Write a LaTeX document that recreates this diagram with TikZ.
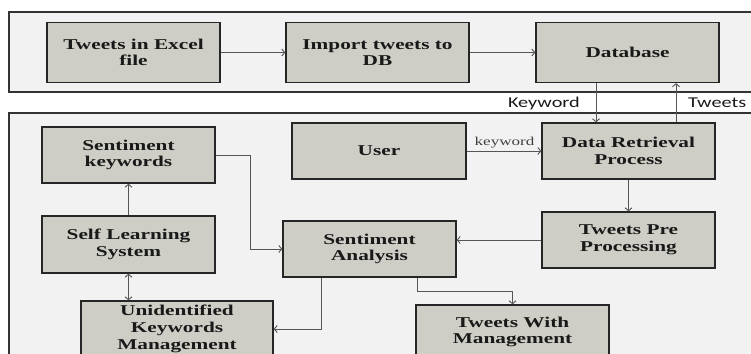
\documentclass[tikz,border=0pt]{standalone}
\usepackage{fontspec}
\setmainfont{Liberation Serif}
\newfontfamily\boxfont{Liberation Serif}[FakeStretch=1.42]
\newfontfamily\lblfont{Carlito}[FakeStretch=1.35]
\usetikzlibrary{arrows.meta}
\definecolor{boxfill}{RGB}{207,206,198}
\definecolor{panelfill}{RGB}{242,242,242}
\definecolor{linec}{RGB}{85,85,85}
\definecolor{txt}{RGB}{25,25,25}
\tikzset{
  blk/.style={draw=black!85, line width=1.3pt, fill=boxfill, text=txt,
    font=\boxfont\bfseries\fontsize{15}{16.7}\selectfont, align=center, inner sep=0pt},
  panel/.style={draw=black!80, line width=1.3pt, fill=panelfill},
  arr/.style={draw=linec, line width=0.9pt, -{Straight Barb[length=3pt,width=7pt]}},
  arrb/.style={draw=linec, line width=0.9pt, {Straight Barb[length=3pt,width=7pt]}-{Straight Barb[length=3pt,width=7pt]}},
  lbl/.style={font=\lblfont\fontsize{15}{16}\selectfont, text=txt, inner sep=0pt},
  smlbl/.style={font=\boxfont\fontsize{12}{13}\selectfont, text=black!75, inner sep=0pt}
}
\begin{document}
\begin{tikzpicture}[x=1pt,y=-1pt]
\fill[white] (0,0) rectangle (751,353);
\useasboundingbox (0,0) rectangle (751,353);
\clip (0,0) rectangle (751,353);
% panels
\draw[panel] (9,12) rectangle (780,92);
\draw[panel] (9,113) rectangle (780,400);
% top row
\node[blk, minimum width=173pt, minimum height=60pt] (excel) at (133.5,52.5) {Tweets in Excel\\file};
\node[blk, minimum width=183pt, minimum height=60pt] (import) at (377.5,52.5) {Import tweets to\\DB};
\node[blk, minimum width=183pt, minimum height=60pt] (db) at (627.5,52.5) {Database};
% lower panel
\node[blk, minimum width=174pt, minimum height=56pt] (user) at (379,151) {User};
\node[blk, minimum width=173pt, minimum height=56pt] (drp) at (628.5,151) {Data Retrieval\\Process};
\node[blk, minimum width=173pt, minimum height=56pt] (sk) at (128.5,155) {Sentiment\\keywords};
\node[blk, minimum width=173pt, minimum height=57pt] (sls) at (128.5,244.5) {Self Learning\\System};
\node[blk, minimum width=173pt, minimum height=56pt] (sa) at (369.5,249) {Sentiment\\Analysis};
\node[blk, minimum width=173pt, minimum height=56pt] (tpp) at (628.5,240) {Tweets Pre\\Processing};
\node[blk, minimum width=192pt, minimum height=56pt] (ukm) at (177,329) {Unidentified\\Keywords\\Management};
\node[blk, minimum width=193pt, minimum height=54pt] (twm) at (512.5,332) {Tweets With\\Management};
% coordinates for vertical links
\coordinate (kx) at (596,100);
\coordinate (tx) at (676,100);
% connectors
\draw[arr] (excel.east) -- (import.west);
\draw[arr] (import.east) -- (db.west);
\draw[arr] (db.south -| kx) -- (drp.north -| kx);
\draw[arr] (drp.north -| tx) -- (db.south -| tx);
\node[lbl, anchor=east] (kwlbl) at (580,103) {Keyword};
\node[lbl, anchor=west] (twlbl) at (688,103) {Tweets};
\draw[arr] (user.east) -- (drp.west);
\node[smlbl] (kwsm) at (504.5,143) {keyword};
\draw[arr] (drp.south) -- (tpp.north);
\draw[arr] (tpp.west) -- (sa.east |- tpp.west);
\draw[arr] (sk.east) -- (250,155) |- (sa.west);
\draw[arr] (sls.north) -- (sk.south);
\draw[arrb] (sls.south) -- (ukm.north -| sls.south);
\draw[arr] (sa.south -| 321,0) |- (ukm.east);
\draw[arr] (sa.south -| 417,0) -- (417,291) -| (twm.north);
\end{tikzpicture}
\end{document}
